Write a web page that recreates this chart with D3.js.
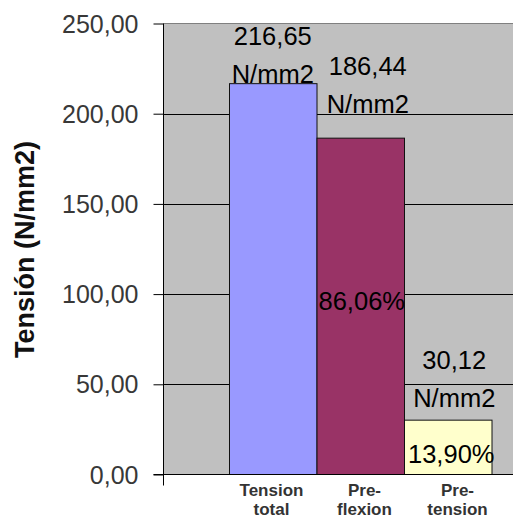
<!DOCTYPE html>
<html>
<head>
<meta charset="utf-8">
<script src="https://cdn.jsdelivr.net/npm/d3@7"></script>
<style>
  html, body { margin: 0; padding: 0; background: #fff; }
  svg { display: block; }
  text { font-family: "Liberation Sans", Arial, sans-serif; }
</style>
</head>
<body>
<svg id="chart" width="513" height="519"></svg>
<script>
// ---- data ----
const categories = ["Tension total", "Pre-flexion", "Pre-tension"];
const categoryLines = [["Tension", "total"], ["Pre-", "flexion"], ["Pre-", "tension"]];
const values = [216.65, 186.44, 30.12];
const percents = [null, 86.06, 13.90];
const yTicks = [0, 50, 100, 150, 200, 250];
const barColors = ["#9999FF", "#993366", "#FFFFCC"];
const yTitle = "Tensión (N/mm2)";
const unit = "N/mm2";

// ---- layout ----
const plot = { left: 163.5, right: 560, top: 23.5, bottom: 474.5 };
const svg = d3.select("#chart");

const y = d3.scaleLinear().domain([0, 250]).range([plot.bottom, plot.top]);
const x = d3.scaleBand().domain(categories).range([229.5, 492]).padding(0);
const xLab = d3.scaleBand().domain(categories).range([225, 504]).padding(0);

const fmt = v => d3.format(".2f")(v).replace(".", ",");

// plot background
svg.append("rect")
  .attr("x", plot.left).attr("y", plot.top)
  .attr("width", plot.right - plot.left).attr("height", plot.bottom - plot.top)
  .attr("fill", "#C0C0C0");

// top border
svg.append("line")
  .attr("x1", plot.left).attr("x2", plot.right)
  .attr("y1", plot.top).attr("y2", plot.top)
  .attr("stroke", "#808080").attr("stroke-width", 1);

// gridlines
svg.append("g").selectAll("line")
  .data(yTicks.filter(t => t > 0 && t < 250))
  .join("line")
  .attr("x1", plot.left).attr("x2", plot.right)
  .attr("y1", d => Math.round(y(d)) + 0.5).attr("y2", d => Math.round(y(d)) + 0.5)
  .attr("stroke", "#000").attr("stroke-width", 1);

// bars
svg.append("g").selectAll("rect")
  .data(categories)
  .join("rect")
  .attr("x", d => x(d))
  .attr("y", (d, i) => y(values[i]))
  .attr("width", x.bandwidth())
  .attr("height", (d, i) => y(0) - y(values[i]))
  .attr("fill", (d, i) => barColors[i])
  .attr("stroke", "#111").attr("stroke-width", 1);

// y axis
const yAxis = d3.axisLeft(y).tickValues(yTicks).tickSize(10).tickPadding(15).tickFormat(fmt);
const gy = svg.append("g").attr("transform", `translate(${plot.left},0)`).call(yAxis);
gy.select(".domain").remove();
gy.selectAll(".tick line").attr("stroke", "#000");
gy.selectAll(".tick text")
  .attr("font-size", 25).attr("fill", "#383838")
  .attr("font-family", "Liberation Sans, Arial, sans-serif")
  .attr("dy", "0.34em");
// vertical axis line (extends a little below zero)
svg.append("line")
  .attr("x1", plot.left).attr("x2", plot.left)
  .attr("y1", plot.top).attr("y2", plot.bottom + 11)
  .attr("stroke", "#000");
// x axis line at 0
svg.append("line")
  .attr("x1", plot.left - 10).attr("x2", plot.right)
  .attr("y1", y(0)).attr("y2", y(0))
  .attr("stroke", "#000");

// y title
svg.append("text")
  .attr("transform", `translate(34,${(137 + 362) / 2}) rotate(-90)`)
  .attr("text-anchor", "middle")
  .attr("font-size", 27).attr("font-weight", "bold").attr("fill", "#111")
  .text(yTitle);

// category labels
const catG = svg.append("g");
categories.forEach((c, i) => {
  const t = catG.append("text")
    .attr("x", xLab(c) + xLab.bandwidth() / 2)
    .attr("y", 496)
    .attr("text-anchor", "middle")
    .attr("font-size", 17).attr("font-weight", "bold").attr("fill", "#333");
  categoryLines[i].forEach((ln, j) => {
    t.append("tspan").attr("x", xLab(c) + xLab.bandwidth() / 2).attr("dy", j === 0 ? 0 : 18.5).text(ln);
  });
});

// value labels (two lines: value, unit)
const valueNudge = [{ dx: -0.5, dy: -0.5 }, { dx: 7, dy: -25 }, { dx: 6, dy: -13 }];
categories.forEach((c, i) => {
  const cx = x(c) + x.bandwidth() / 2 + valueNudge[i].dx;
  const base = y(values[i]) + valueNudge[i].dy;
  svg.append("text")
    .attr("x", cx).attr("y", base - 38)
    .attr("text-anchor", "middle").attr("font-size", 25.5).attr("fill", "#000")
    .text(fmt(values[i]));
  svg.append("text")
    .attr("x", cx).attr("y", base)
    .attr("text-anchor", "middle").attr("font-size", 25.5).attr("fill", "#000")
    .text(unit);
});

// percent labels
const pctNudge = [null, { dx: 1, dy: 4 }, { dx: 3, dy: 16 }];
categories.forEach((c, i) => {
  if (percents[i] == null) return;
  const cx = x(c) + x.bandwidth() / 2 + pctNudge[i].dx;
  const cy = (y(values[i]) + y(0)) / 2 + pctNudge[i].dy;
  svg.append("text")
    .attr("x", cx).attr("y", cy)
    .attr("text-anchor", "middle").attr("font-size", 25.5).attr("fill", "#000")
    .text(fmt(percents[i]) + "%");
});
</script>
</body>
</html>
